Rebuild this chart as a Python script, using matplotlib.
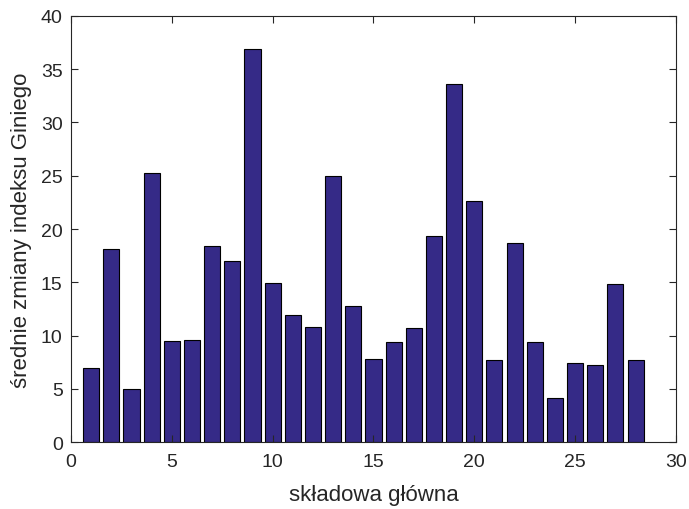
import matplotlib
matplotlib.use("Agg")
import matplotlib.pyplot as plt

components = list(range(1, 29))
gini_change = [7.0, 18.1, 5.0, 25.3, 9.5, 9.6, 18.4, 17.0, 36.9, 14.9,
               11.9, 10.8, 25.0, 12.8, 7.8, 9.4, 10.7, 19.3, 33.6, 22.6,
               7.7, 18.7, 9.4, 4.1, 7.4, 7.2, 14.8, 7.7]

plt.rcParams["font.family"] = ["Liberation Sans", "DejaVu Sans"]

fig = plt.figure(figsize=(6.89, 5.10), dpi=100)
ax = fig.add_axes([0.103, 0.131, 0.878, 0.836])
ax.bar(components, gini_change, width=0.8, color="#352a87", edgecolor="black", linewidth=0.8)

ax.set_xlim(0, 30)
ax.set_ylim(0, 40)
ax.set_xticks(range(0, 31, 5))
ax.set_yticks(range(0, 41, 5))
ax.tick_params(direction="in", top=True, right=True, labelsize=14, colors="#262626", length=5, pad=6)
ax.tick_params(axis="x", pad=8)
for s in ax.spines.values():
    s.set_color("#262626")
    s.set_linewidth(0.8)
ax.set_xlabel("składowa główna", fontsize=16, color="#262626", labelpad=10)
ax.set_ylabel("średnie zmiany indeksu Giniego", fontsize=16, color="#262626", labelpad=6)

fig.savefig("out.png", dpi=100)
